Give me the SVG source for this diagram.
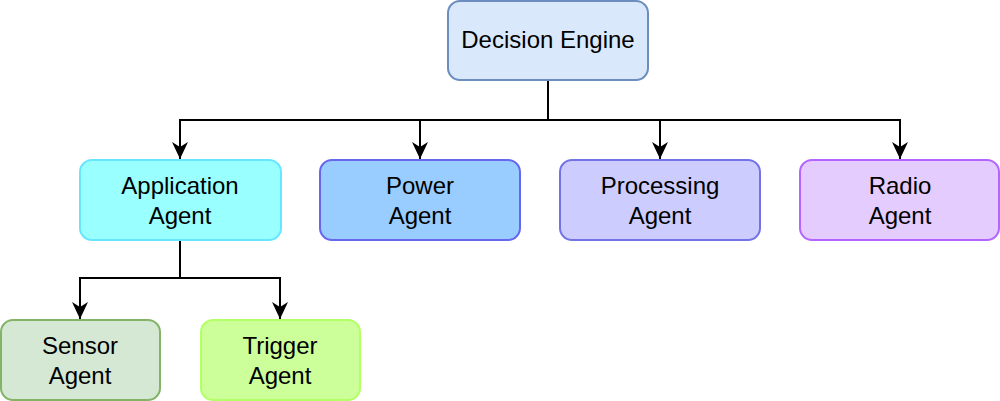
<svg xmlns="http://www.w3.org/2000/svg" width="1000" height="401" viewBox="0 0 1000 401">
<style>
.box{stroke-width:2}
.t{font-family:"Liberation Sans",Arial,sans-serif;font-size:24px;fill:#000;text-anchor:middle}
.c{fill:none;stroke:#000;stroke-width:2}
</style>
<defs>
<marker id="a" viewBox="0 0 18 18" refX="17" refY="9" markerWidth="18" markerHeight="18" markerUnits="userSpaceOnUse" orient="auto">
<path d="M0,1 L17,9 L0,17 L5,9 Z" fill="#000"/>
</marker>
</defs>
<rect width="1000" height="401" fill="#fff"/>
<g id="connectors">
<path class="c" d="M548,80 V120 H180 V159" marker-end="url(#a)"/>
<path class="c" d="M548,120 H420 V159" marker-end="url(#a)"/>
<path class="c" d="M548,120 H660 V159" marker-end="url(#a)"/>
<path class="c" d="M660,120 H900 V159" marker-end="url(#a)"/>
<path class="c" d="M180,240 V278 H80 V319" marker-end="url(#a)"/>
<path class="c" d="M180,278 H280 V319" marker-end="url(#a)"/>
</g>
<g id="decision-engine">
<rect class="box" x="448" y="1" width="200" height="79" rx="12" fill="#dae8fc" stroke="#6c8ebf"/>
<text class="t" x="548" y="48">Decision Engine</text>
</g>
<g id="application-agent">
<rect class="box" x="80" y="160" width="201" height="80" rx="12" fill="#99ffff" stroke="#66e6ff"/>
<text class="t" x="180" y="194">Application</text>
<text class="t" x="180" y="224">Agent</text>
</g>
<g id="power-agent">
<rect class="box" x="320" y="160" width="200" height="80" rx="12" fill="#99ccff" stroke="#6666ee"/>
<text class="t" x="420" y="194">Power</text>
<text class="t" x="420" y="224">Agent</text>
</g>
<g id="processing-agent">
<rect class="box" x="560" y="160" width="200" height="80" rx="12" fill="#ccccff" stroke="#7373e6"/>
<text class="t" x="660" y="194">Processing</text>
<text class="t" x="660" y="224">Agent</text>
</g>
<g id="radio-agent">
<rect class="box" x="800" y="160" width="199" height="80" rx="12" fill="#e5ccff" stroke="#b266ff"/>
<text class="t" x="900" y="194">Radio</text>
<text class="t" x="900" y="224">Agent</text>
</g>
<g id="sensor-agent">
<rect class="box" x="1" y="320" width="159" height="80" rx="12" fill="#d5e8d4" stroke="#82b366"/>
<text class="t" x="80" y="354">Sensor</text>
<text class="t" x="80" y="384">Agent</text>
</g>
<g id="trigger-agent">
<rect class="box" x="201" y="320" width="159" height="80" rx="12" fill="#ccff99" stroke="#b3ff66"/>
<text class="t" x="280" y="354">Trigger</text>
<text class="t" x="280" y="384">Agent</text>
</g>
</svg>
